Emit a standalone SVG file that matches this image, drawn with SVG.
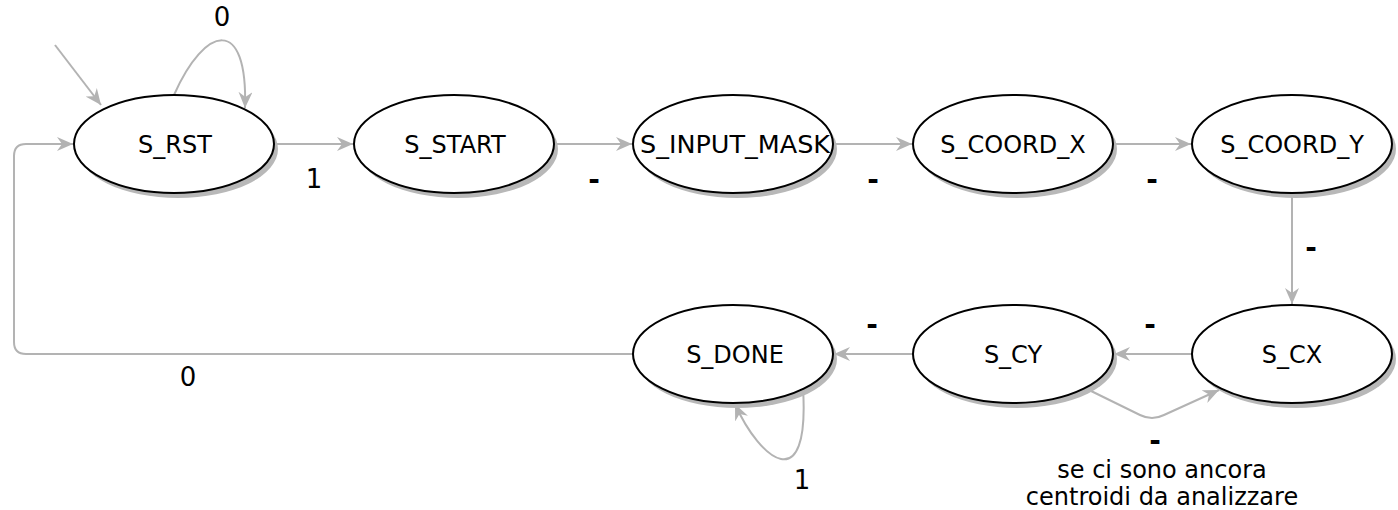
<svg xmlns="http://www.w3.org/2000/svg" width="1398" height="510" viewBox="0 0 1398 510">
<style>
.shadow{fill:#b8b8b8;stroke:none}
.node{fill:#fff;stroke:#000;stroke-width:2}
.lbl{font-family:"DejaVu Sans",Verdana,sans-serif;font-size:24px;fill:#000;text-anchor:middle}
.num{font-family:"DejaVu Sans",Verdana,sans-serif;font-size:26px;fill:#000;text-anchor:middle}
.dash{font-family:"DejaVu Sans",Verdana,sans-serif;font-size:28px;font-weight:bold;fill:#000;text-anchor:middle}
.edge{fill:none;stroke:#b3b3b3;stroke-width:2;marker-end:url(#arr)}
</style>
<defs>
<marker id="arr" markerUnits="userSpaceOnUse" markerWidth="18" markerHeight="14" refX="16" refY="7" orient="auto">
<path d="M0,0 L16,7 L0,14 L5,7 Z" fill="#b3b3b3"/>
</marker>
</defs>
<g id="connectors">
<path class="edge" d="M55,45 L101,105"/>
<path class="edge" d="M174,95 C205,25 248,15 245,108"/>
<path class="edge" d="M274,144 L353,144"/>
<path class="edge" d="M554,144 L632,144"/>
<path class="edge" d="M833,144 L912,144"/>
<path class="edge" d="M1113,144 L1191,144"/>
<path class="edge" d="M1292,194 L1292,304"/>
<path class="edge" d="M1192,354 L1114,354"/>
<path class="edge" d="M913,354 L834,354"/>
<path class="edge" d="M1087,389 L1140,415 Q1152,421 1164,415 L1219,390"/>
<path class="edge" d="M633,354 L26,354 Q14,354 14,342 L14,156 Q14,144 26,144 L73,144"/>
<path class="edge" d="M803,388 C810,500 760,460 735,404"/>
<text class="num" x="222" y="26">0</text>
<text class="num" x="314" y="188">1</text>
<text class="dash" x="594" y="189">-</text>
<text class="dash" x="873" y="189">-</text>
<text class="dash" x="1152" y="189">-</text>
<text class="dash" x="1311" y="257">-</text>
<text class="dash" x="1150" y="334">-</text>
<text class="dash" x="872" y="334">-</text>
<text class="num" x="188" y="386">0</text>
<text class="num" x="802" y="489">1</text>
<text class="dash" x="1155" y="450">-</text>
<text class="lbl" x="1162" y="478">se ci sono ancora</text>
<text class="lbl" x="1162" y="505">centroidi da analizzare</text>
</g>
<g id="S_RST"><ellipse class="shadow" cx="178" cy="149" rx="100" ry="49"/><ellipse class="node" cx="174" cy="144" rx="100" ry="49"/><text class="lbl" x="175" y="153">S_RST</text></g>
<g id="S_START"><ellipse class="shadow" cx="458" cy="149" rx="100" ry="49"/><ellipse class="node" cx="454" cy="144" rx="100" ry="49"/><text class="lbl" x="455" y="153">S_START</text></g>
<g id="S_INPUT_MASK"><ellipse class="shadow" cx="737" cy="149" rx="100" ry="49"/><ellipse class="node" cx="733" cy="144" rx="100" ry="49"/><text class="lbl" x="735" y="153" textLength="190" lengthAdjust="spacingAndGlyphs">S_INPUT_MASK</text></g>
<g id="S_COORD_X"><ellipse class="shadow" cx="1017" cy="149" rx="100" ry="49"/><ellipse class="node" cx="1013" cy="144" rx="100" ry="49"/><text class="lbl" x="1013" y="153">S_COORD_X</text></g>
<g id="S_COORD_Y"><ellipse class="shadow" cx="1296" cy="149" rx="100" ry="49"/><ellipse class="node" cx="1292" cy="144" rx="100" ry="49"/><text class="lbl" x="1292" y="153">S_COORD_Y</text></g>
<g id="S_CX"><ellipse class="shadow" cx="1296" cy="359" rx="100" ry="49"/><ellipse class="node" cx="1292" cy="354" rx="100" ry="49"/><text class="lbl" x="1292" y="363">S_CX</text></g>
<g id="S_CY"><ellipse class="shadow" cx="1017" cy="359" rx="100" ry="49"/><ellipse class="node" cx="1013" cy="354" rx="100" ry="49"/><text class="lbl" x="1013" y="363">S_CY</text></g>
<g id="S_DONE"><ellipse class="shadow" cx="737" cy="359" rx="100" ry="49"/><ellipse class="node" cx="733" cy="354" rx="100" ry="49"/><text class="lbl" x="735" y="363">S_DONE</text></g>
</svg>
